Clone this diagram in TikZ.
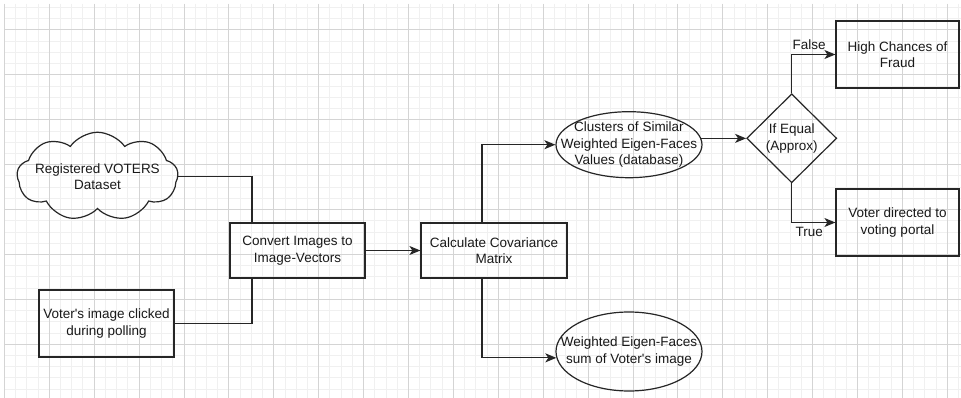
\documentclass[tikz,border=0pt]{standalone}
\usepackage{fontspec}
\setmainfont{Liberation Sans}
\usetikzlibrary{shapes.geometric,shapes.symbols,arrows.meta}

\begin{document}
\begin{tikzpicture}[x=1pt,y=-1pt,
            every node/.style={font=\fontsize{13.5}{16.5}\selectfont, align=center, text=black!90},
            box/.style={draw=black!85, line width=1.2pt, rectangle, inner sep=0pt},
            ellip/.style={draw=black!85, line width=1.2pt, ellipse, inner xsep=-20pt, inner ysep=-2pt},
            link/.style={draw=black!85, line width=1.2pt},
            arrow/.style={link, -{Stealth[length=11pt,width=9pt,inset=3pt]}},
            minorline/.style={black!6, line width=1pt},
            majorline/.style={black!17, line width=1pt}]
            \useasboundingbox (0,0) rectangle (961,398);
            \fill[white] (0,0) rectangle (961,398);
            % grid
            \foreach \i in {0,...,85}
                \draw[minorline] ({4.4+11.225*\i},4) -- ({4.4+11.225*\i},398);
            \foreach \j in {0,...,34}
                \draw[minorline] (4,{7.55+11.225*\j}) -- (961,{7.55+11.225*\j});
            \foreach \i in {0,...,21}
                \draw[majorline] ({4.4+44.9*\i},4) -- ({4.4+44.9*\i},398);
            \foreach \j in {1,...,8}
                \draw[majorline] (4,{-14.9+44.9*\j}) -- (961,{-14.9+44.9*\j});

            \node[cloud, draw=black!85, line width=1.2pt, cloud puffs=9, cloud puff arc=110, aspect=2,
                  inner xsep=-14pt, inner ysep=0pt, minimum width=161pt, minimum height=83pt]
                  (dataset) at (97.5,176.5) {Registered VOTERS\\Dataset};
            \node[box, minimum width=135pt, minimum height=67pt] (voter) at (106.5,323.5)
                  {Voter\textquotesingle s image clicked\\during polling};
            \node[box, minimum width=135pt, minimum height=55pt] (convert) at (297.5,250.5)
                  {Convert Images to\\Image-Vectors};
            \node[box, minimum width=146pt, minimum height=55pt] (covar) at (494,250.5)
                  {Calculate Covariance\\Matrix};
            \node[ellip, minimum width=146pt, minimum height=66pt] (clusters) at (629,144.7)
                  {Clusters of Similar\\Weighted Eigen-Faces\\Values (database)};
            \node[ellip, minimum width=146pt, minimum height=79pt] (eigensum) at (629,351.5)
                  {Weighted Eigen-Faces\\sum of Voter\textquotesingle s image};
            \node[diamond, draw=black!85, line width=1.2pt, inner sep=0pt,
                  minimum width=90pt, minimum height=89pt] (equal) at (791.7,138.3)
                  {If Equal\\(Approx)};
            \node[box, minimum width=123pt, minimum height=67pt] (fraud) at (897.5,54.5)
                  {High Chances of\\Fraud};
            \node[box, minimum width=123pt, minimum height=67pt] (portal) at (897.5,222.5)
                  {Voter directed to\\voting portal};

            \draw[link] (dataset.east) -| ([xshift=-45.5pt]convert.north)
                  (voter.east) -| ([xshift=-45.5pt]convert.south);
            \draw[arrow] (convert) -- (covar);
            \draw[arrow] ([xshift=-12pt]covar.north) |- (clusters.west);
            \draw[arrow] ([xshift=-12pt]covar.south) |- (eigensum.185);
            \draw[arrow] (clusters.5) -- (clusters.5 -| equal.west);
            \draw[arrow] (equal.north) |- node[pos=0.7, above=1pt] {False} (fraud.west);
            \draw[arrow] (equal.south) |- node[pos=0.7, below=1pt] {True} (portal.west);
        \end{tikzpicture}
\end{document}
